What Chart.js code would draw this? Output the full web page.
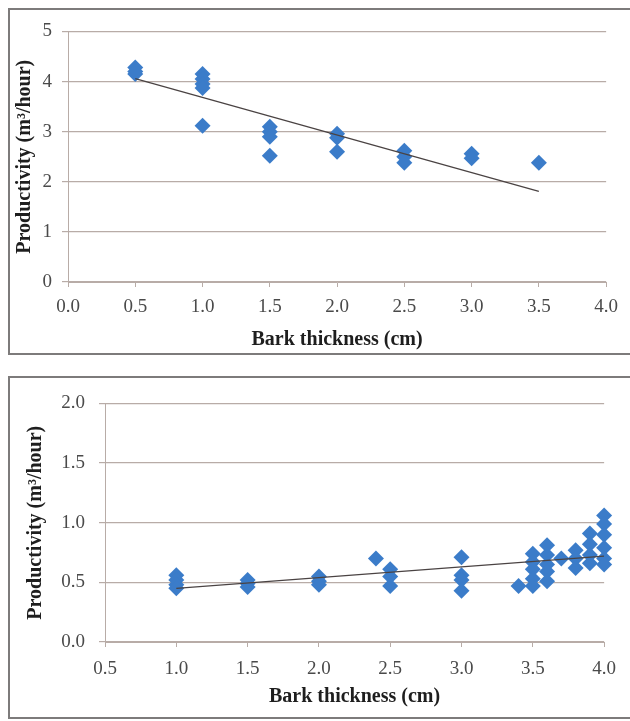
<!DOCTYPE html>
<html>
<head>
<meta charset="utf-8">
<script src="https://cdn.jsdelivr.net/npm/chart.js@4"></script>
<style>
  html, body { margin: 0; padding: 0; background: #fff; width: 630px; height: 721px; overflow: hidden; }
  .box { position: absolute; border: 2px solid #7d7b7b; box-sizing: border-box; background: #fff; }
  .box canvas { position: absolute; left: 0; top: 0; }
</style>
</head>
<body>
<div class="box" id="boxTop" style="left:8px; top:8px; width:640px; height:347px;">
  <canvas id="chartTop" width="617" height="343" style="width:617px;height:343px;"></canvas>
</div>
<div class="box" id="boxBottom" style="left:8px; top:376px; width:640px; height:343px;">
  <canvas id="chartBottom" width="617" height="339" style="width:617px;height:339px;"></canvas>
</div>
<script>
// top chart: bark thickness vs productivity
const topBark = [0.5, 0.5, 0.5, 1.0, 1.0, 1.0, 1.0, 1.0, 1.5, 1.5, 1.5, 1.5, 2.0, 2.0, 2.0, 2.5, 2.5, 2.5, 3.0, 3.0, 3.5];
const topProd = [4.28, 4.2, 4.15, 4.15, 4.05, 3.95, 3.87, 3.12, 3.1, 3.0, 2.9, 2.52, 2.96, 2.88, 2.6, 2.62, 2.5, 2.38, 2.56, 2.47, 2.38];
const topTrendX = [0.5, 3.5];
const topTrendY = [4.06, 1.81];
const topYTicks = [0, 1, 2, 3, 4, 5];

// bottom chart
const botBark = [1.0, 1.0, 1.0, 1.0, 1.5, 1.5, 1.5, 2.0, 2.0, 2.0, 2.4, 2.5, 2.5, 2.5, 3.0, 3.0, 3.0, 3.0,
                 3.4, 3.5, 3.5, 3.5, 3.5, 3.5, 3.6, 3.6, 3.6, 3.6, 3.6, 3.7, 3.8, 3.8, 3.8,
                 3.9, 3.9, 3.9, 3.9, 4.0, 4.0, 4.0, 4.0, 4.0, 4.0];
const botProd = [0.56, 0.52, 0.48, 0.45, 0.52, 0.49, 0.46, 0.55, 0.51, 0.48, 0.70, 0.61, 0.55, 0.47, 0.71, 0.56, 0.52, 0.43,
                 0.47, 0.74, 0.67, 0.61, 0.53, 0.47, 0.81, 0.73, 0.65, 0.59, 0.51, 0.70, 0.77, 0.70, 0.62,
                 0.91, 0.82, 0.73, 0.66, 1.06, 0.99, 0.90, 0.79, 0.70, 0.65];
const botTrendX = [1.0, 4.0];
const botTrendY = [0.45, 0.72];

const xTitle = 'Bark thickness (cm)';
const yTitle = 'Productivity (m\u00B3/hour)';

const serif = 'Liberation Serif';
const gridColor = '#b8aca7';
const pointColor = '#3b7cc9';
const lineColor = '#4a4343';

function pairs(xs, ys) {
    return xs.map((x, i) => ({ x: x, y: ys[i] }));
}

function makeChart(id, cfg) {
    const ctx = document.getElementById(id).getContext('2d');
    return new Chart(ctx, {
        type: 'scatter',
        data: {
            datasets: [{
                type: 'line',
                data: pairs(cfg.trendX, cfg.trendY),
                borderColor: lineColor,
                borderWidth: 1.3,
                pointRadius: 0,
                fill: false,
                order: 0
            }, {
                data: pairs(cfg.x, cfg.y),
                backgroundColor: pointColor,
                borderWidth: 0,
                pointStyle: 'rectRot',
                pointRadius: 8,
                clip: false,
                order: 1
            }]
        },
        options: {
            responsive: false,
            animation: false,
            layout: { padding: { left: 0, right: cfg.padRight, top: cfg.padTop, bottom: 0 } },
            plugins: { legend: { display: false }, tooltip: { enabled: false } },
            scales: {
                x: {
                    type: 'linear',
                    min: cfg.xMin, max: cfg.xMax,
                    afterBuildTicks: (scale) => {
                        scale.ticks = cfg.xTicks.map(v => ({ value: v }));
                    },
                    afterFit: (scale) => { scale.height = cfg.xHeight; },
                    grid: { drawOnChartArea: false, drawTicks: true, tickLength: 5, color: gridColor },
                    border: { color: gridColor, width: 1 },
                    ticks: {
                        padding: cfg.xTickPad,
                        color: '#4a4a4a',
                        font: { family: serif, size: 19 },
                        callback: (v) => Number(v).toFixed(1)
                    },
                    title: {
                        display: true,
                        text: xTitle,
                        color: '#1e1e1e',
                        padding: { top: 0, bottom: cfg.xTitlePad },
                        font: { family: serif, size: 20, weight: 'bold' }
                    }
                },
                y: {
                    type: 'linear',
                    min: cfg.yMin, max: cfg.yMax,
                    afterBuildTicks: (scale) => {
                        scale.ticks = cfg.yTicks.map(v => ({ value: v }));
                    },
                    afterFit: (scale) => { scale.width = cfg.yWidth; },
                    grid: { color: gridColor, lineWidth: 1.2, tickLength: 6 },
                    border: { color: gridColor, width: 1 },
                    ticks: {
                        padding: cfg.yTickPad,
                        color: '#4a4a4a',
                        font: { family: serif, size: 19 },
                        callback: (v) => cfg.yFixed ? Number(v).toFixed(1) : String(v)
                    },
                    title: {
                        display: true,
                        text: yTitle,
                        color: '#1e1e1e',
                        padding: { top: cfg.yTitlePad, bottom: 0 },
                        font: { family: serif, size: 20, weight: 'bold' }
                    }
                }
            }
        }
    });
}

makeChart('chartTop', {
    x: topBark, y: topProd, trendX: topTrendX, trendY: topTrendY,
    xMin: 0, xMax: 4, xTicks: [0, 0.5, 1, 1.5, 2, 2.5, 3, 3.5, 4],
    yMin: 0, yMax: 5, yTicks: topYTicks, yFixed: false,
    padRight: 14, padTop: 12, xHeight: 71, yWidth: 58,
    xTickPad: 9, yTickPad: 10, xTitlePad: 1, yTitlePad: 3
});

makeChart('chartBottom', {
    x: botBark, y: botProd, trendX: botTrendX, trendY: botTrendY,
    xMin: 0.5, xMax: 4, xTicks: [0.5, 1, 1.5, 2, 2.5, 3, 3.5, 4],
    yMin: 0, yMax: 2, yTicks: [0, 0.5, 1, 1.5, 2], yFixed: true,
    padRight: 21, padTop: 11, xHeight: 75, yWidth: 95,
    xTickPad: 11, yTickPad: 14, xTitlePad: 8, yTitlePad: 14
});
</script>
</body>
</html>
